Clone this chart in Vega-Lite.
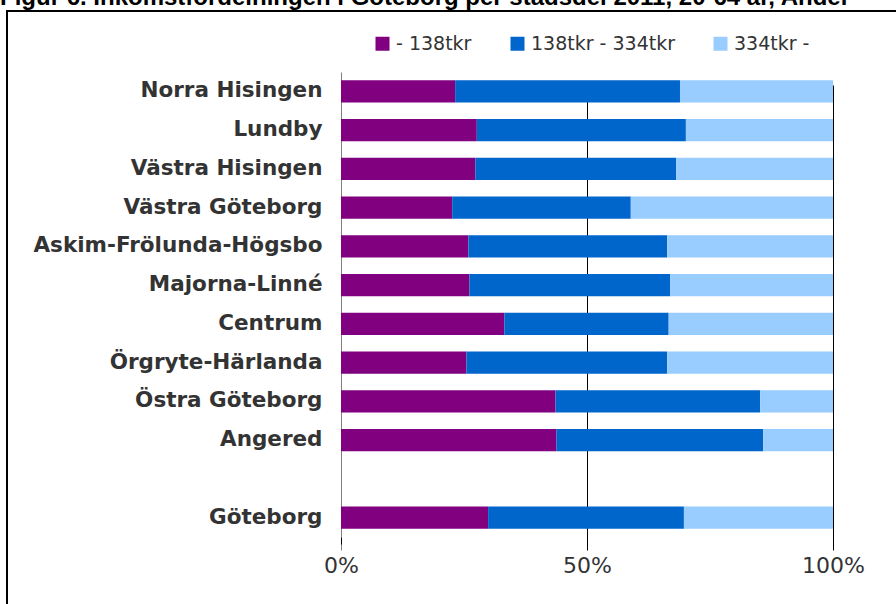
{
  "$schema": "https://vega.github.io/schema/vega-lite/v6.json",
  "autosize": {"type": "none"},
  "width": 895,
  "height": 600,
  "padding": {"left": 7, "top": 11, "right": 0, "bottom": 0},
  "background": "white",
  "title": {
    "text": "Figur 6. Inkomstfördelningen i Göteborg per stadsdel 2011, 20-64 år, Andel",
    "anchor": "start",
    "frame": "group",
    "font": "Liberation Sans",
    "fontSize": 24,
    "fontWeight": "bold",
    "color": "#000000",
    "baseline": "alphabetic",
    "offset": -18,
    "dx": -7
  },
  "config": {
    "view": {"stroke": "#000000", "strokeWidth": 2},
    "axis": {"labelFont": "DejaVu Sans", "labelColor": "#333333"},
    "legend": {"labelFont": "DejaVu Sans", "labelColor": "#333333"}
  },
  "data": {
    "values": [
      {"stadsdel": "Norra Hisingen", "grupp": "- 138tkr", "ordning": 1, "andel": 23.2},
      {"stadsdel": "Norra Hisingen", "grupp": "138tkr - 334tkr", "ordning": 2, "andel": 45.7},
      {"stadsdel": "Norra Hisingen", "grupp": "334tkr -", "ordning": 3, "andel": 31.1},
      {"stadsdel": "Lundby", "grupp": "- 138tkr", "ordning": 1, "andel": 27.6},
      {"stadsdel": "Lundby", "grupp": "138tkr - 334tkr", "ordning": 2, "andel": 42.5},
      {"stadsdel": "Lundby", "grupp": "334tkr -", "ordning": 3, "andel": 29.9},
      {"stadsdel": "Västra Hisingen", "grupp": "- 138tkr", "ordning": 1, "andel": 27.3},
      {"stadsdel": "Västra Hisingen", "grupp": "138tkr - 334tkr", "ordning": 2, "andel": 40.8},
      {"stadsdel": "Västra Hisingen", "grupp": "334tkr -", "ordning": 3, "andel": 31.9},
      {"stadsdel": "Västra Göteborg", "grupp": "- 138tkr", "ordning": 1, "andel": 22.6},
      {"stadsdel": "Västra Göteborg", "grupp": "138tkr - 334tkr", "ordning": 2, "andel": 36.3},
      {"stadsdel": "Västra Göteborg", "grupp": "334tkr -", "ordning": 3, "andel": 41.1},
      {"stadsdel": "Askim-Frölunda-Högsbo", "grupp": "- 138tkr", "ordning": 1, "andel": 25.9},
      {"stadsdel": "Askim-Frölunda-Högsbo", "grupp": "138tkr - 334tkr", "ordning": 2, "andel": 40.4},
      {"stadsdel": "Askim-Frölunda-Högsbo", "grupp": "334tkr -", "ordning": 3, "andel": 33.7},
      {"stadsdel": "Majorna-Linné", "grupp": "- 138tkr", "ordning": 1, "andel": 26.1},
      {"stadsdel": "Majorna-Linné", "grupp": "138tkr - 334tkr", "ordning": 2, "andel": 40.8},
      {"stadsdel": "Majorna-Linné", "grupp": "334tkr -", "ordning": 3, "andel": 33.1},
      {"stadsdel": "Centrum", "grupp": "- 138tkr", "ordning": 1, "andel": 33.2},
      {"stadsdel": "Centrum", "grupp": "138tkr - 334tkr", "ordning": 2, "andel": 33.4},
      {"stadsdel": "Centrum", "grupp": "334tkr -", "ordning": 3, "andel": 33.4},
      {"stadsdel": "Örgryte-Härlanda", "grupp": "- 138tkr", "ordning": 1, "andel": 25.5},
      {"stadsdel": "Örgryte-Härlanda", "grupp": "138tkr - 334tkr", "ordning": 2, "andel": 40.8},
      {"stadsdel": "Örgryte-Härlanda", "grupp": "334tkr -", "ordning": 3, "andel": 33.7},
      {"stadsdel": "Östra Göteborg", "grupp": "- 138tkr", "ordning": 1, "andel": 43.6},
      {"stadsdel": "Östra Göteborg", "grupp": "138tkr - 334tkr", "ordning": 2, "andel": 41.6},
      {"stadsdel": "Östra Göteborg", "grupp": "334tkr -", "ordning": 3, "andel": 14.8},
      {"stadsdel": "Angered", "grupp": "- 138tkr", "ordning": 1, "andel": 43.8},
      {"stadsdel": "Angered", "grupp": "138tkr - 334tkr", "ordning": 2, "andel": 42.0},
      {"stadsdel": "Angered", "grupp": "334tkr -", "ordning": 3, "andel": 14.2},
      {"stadsdel": "Göteborg", "grupp": "- 138tkr", "ordning": 1, "andel": 29.9},
      {"stadsdel": "Göteborg", "grupp": "138tkr - 334tkr", "ordning": 2, "andel": 39.8},
      {"stadsdel": "Göteborg", "grupp": "334tkr -", "ordning": 3, "andel": 30.3}
    ]
  },
  "mark": {"type": "bar"},
  "encoding": {
    "y": {
      "field": "stadsdel",
      "type": "nominal",
      "title": null,
      "scale": {
        "domain": ["Norra Hisingen", "Lundby", "Västra Hisingen", "Västra Göteborg", "Askim-Frölunda-Högsbo", "Majorna-Linné", "Centrum", "Örgryte-Härlanda", "Östra Göteborg", "Angered", " ", "Göteborg"],
        "range": [61, 526],
        "paddingInner": 0.43,
        "paddingOuter": 0.215
      },
      "axis": {
        "orient": "left",
        "offset": -334,
        "ticks": false,
        "domain": true,
        "domainColor": "#808080",
        "domainWidth": 1,
        "labelFontSize": 21.5,
        "labelFontWeight": "bold",
        "labelPadding": 19,
        "labelAlign": "right",
        "labelLimit": 400
      }
    },
    "x": {
      "field": "andel",
      "type": "quantitative",
      "stack": "zero",
      "title": null,
      "scale": {"domain": [0, 100], "range": [334, 826], "nice": false},
      "axis": {
        "orient": "bottom",
        "offset": -74,
        "values": [0, 50, 100],
        "labelExpr": "datum.value + '%'",
        "labelFlush": false,
        "domain": false,
        "ticks": true,
        "tickSize": 7,
        "tickColor": "#000000",
        "grid": true,
        "gridColor": {"condition": {"test": "datum.value == 0", "value": "#808080"}, "value": "#000000"},
        "gridOpacity": 1,
        "gridWidth": 1,
        "labelFontSize": 22,
        "labelPadding": 11
      }
    },
    "color": {
      "field": "grupp",
      "type": "nominal",
      "scale": {
        "domain": ["- 138tkr", "138tkr - 334tkr", "334tkr -"],
        "range": ["#800080", "#0066CC", "#99CCFF"]
      },
      "legend": {
        "title": null,
        "orient": "none",
        "direction": "horizontal",
        "legendX": 366,
        "legendY": 23,
        "symbolType": "square",
        "symbolSize": 196,
        "symbolStrokeWidth": 0,
        "labelFontSize": 19,
        "labelOffset": 4,
        "columnPadding": 36
      }
    },
    "order": {"field": "ordning", "type": "quantitative"}
  }
}
